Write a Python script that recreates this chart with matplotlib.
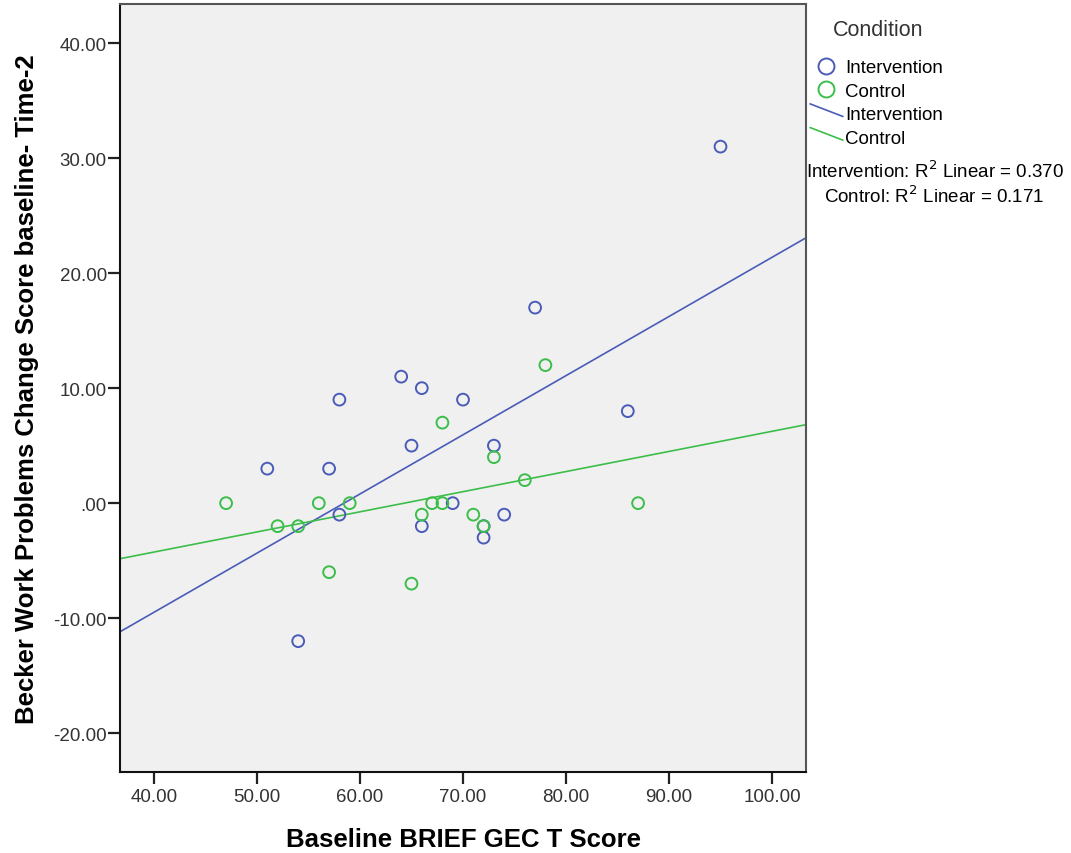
import numpy as np
import matplotlib.pyplot as plt
from matplotlib.lines import Line2D
from matplotlib.legend_handler import HandlerLine2D

plt.rcParams['font.family'] = ['Liberation Sans', 'DejaVu Sans']

# Intervention group
int_x = [95, 77, 64, 66, 58, 70, 86, 65, 73, 51, 57, 69, 58, 74, 66, 72, 72, 54]
int_y = [31, 17, 11, 10, 9, 9, 8, 5, 5, 3, 3, 0, -1, -1, -2, -2, -3, -12]

# Control group
ctl_x = [78, 68, 73, 76, 47, 56, 59, 67, 68, 87, 52, 54, 66, 71, 72, 57, 65]
ctl_y = [12, 7, 4, 2, 0, 0, 0, 0, 0, 0, -2, -2, -1, -1, -2, -6, -7]

r2_text = ["Intervention: R$^2$ Linear = 0.370", "Control: R$^2$ Linear = 0.171"]

blue = "#4A5CB8"
green = "#3CBE4A"


class DiagonalLine(HandlerLine2D):
    # SPSS draws fit lines in the legend as a short diagonal (units are points)
    def create_artists(self, legend, orig_handle, xdescent, ydescent,
                       width, height, fontsize, trans):
        mid = height / 2 - ydescent
        line = Line2D([-xdescent - 2, -xdescent + width + 2.5],
                      [mid + 6.5, mid - 2.5],
                      color=orig_handle.get_color(), lw=1.2)
        line.set_transform(trans)
        return [line]


fig = plt.figure(figsize=(10.71, 8.54), dpi=100)
ax = fig.add_axes([120 / 1071, 1 - 772.7 / 854, 686 / 1071, 767.7 / 854])
ax.set_facecolor("#F0F0F0")

xmin, xmax = 36.7, 103.3
ax.set_xlim(xmin, xmax)
ax.set_ylim(-23.35, 43.4)

ax.scatter(int_x, int_y, s=72, facecolors="none", edgecolors=blue, linewidths=1.4, zorder=3)
ax.scatter(ctl_x, ctl_y, s=72, facecolors="none", edgecolors=green, linewidths=1.4, zorder=3)

xs = np.array([xmin, xmax])
b1, a1 = np.polyfit(int_x, int_y, 1)
b2, a2 = np.polyfit(ctl_x, ctl_y, 1)
ax.plot(xs, a1 + b1 * xs, color=blue, lw=1.2, zorder=2)
ax.plot(xs, a2 + b2 * xs, color=green, lw=1.2, zorder=2)

ax.set_xticks(np.arange(40, 101, 10))
ax.set_xticklabels([f"{v:.2f}" for v in np.arange(40, 101, 10)])
yt = np.arange(-20, 41, 10)
ax.set_yticks(yt)
ax.set_yticklabels([".00" if v == 0 else f"{v:.2f}" for v in yt])
ax.tick_params(direction="out", length=8.5, width=1.6, labelsize=13.5, colors="#222222")
ax.tick_params(axis="x", pad=3)
ax.tick_params(axis="y", pad=1)
ax.tick_params(axis="both", labelcolor="#333333")

for side in ["left", "bottom"]:
    ax.spines[side].set_color("#111111")
    ax.spines[side].set_linewidth(1.5)
for side in ["top", "right"]:
    ax.spines[side].set_color("#555555")
    ax.spines[side].set_linewidth(1.5)

ax.set_xlabel("Baseline BRIEF GEC T Score", fontsize=18.5, fontweight="bold", labelpad=16)
ax.set_ylabel("Becker Work Problems Change Score baseline- Time-2", fontsize=18.5,
              fontweight="bold", labelpad=10)

handles = [
    Line2D([], [], marker="o", ls="none", markersize=11.5, markerfacecolor="none",
           markeredgecolor=blue, markeredgewidth=1.4),
    Line2D([], [], marker="o", ls="none", markersize=11.5, markerfacecolor="none",
           markeredgecolor=green, markeredgewidth=1.4),
    Line2D([], [], color=blue),
    Line2D([], [], color=green),
]
labels = ["Intervention", "Control", "Intervention", "Control"]

fig.text(833 / 1071, 1 - 30 / 854, "Condition", ha="left", va="center",
         fontsize=15.5, color="#333333")
leg = fig.legend(handles, labels, loc="upper left",
                 bbox_to_anchor=(813 / 1071, 1 - 60 / 854), frameon=False, fontsize=13.5,
                 handlelength=1.4, handletextpad=0.3, labelspacing=0.35,
                 borderaxespad=0, borderpad=0,
                 handler_map={handles[2]: DiagonalLine(), handles[3]: DiagonalLine()})

fig.text(935 / 1071, 1 - 171 / 854, r2_text[0], ha="center", va="center", fontsize=13.5)
fig.text(934 / 1071, 1 - 196 / 854, r2_text[1], ha="center", va="center", fontsize=13.5)

fig.savefig("out.png", dpi=100, facecolor="white")
plt.close(fig)
